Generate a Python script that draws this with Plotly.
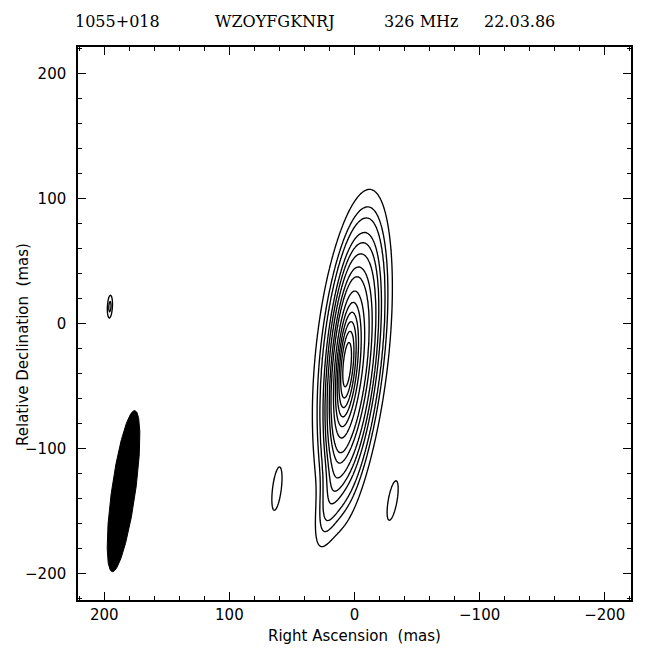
import numpy as np
import plotly.graph_objects as go

# Gaussian model components of the 326 MHz map:
# RA / Dec offsets (mas), peak (mJy/beam), sigma along major / minor axis (mas),
# position angle of the major axis (deg, north through east)
comp_ra = [7.0, 1.0, 2.0, 19.0, -30.5, 62.0, 195.5]
comp_dec = [-33.0, -35.0, -22.0, -138.0, -141.5, -132.0, 13.5]
comp_peak = [55.0, 26.0, 14.0, 2.6, 1.6, 1.6, 2.4]
comp_smaj = [34.0, 48.0, 53.0, 26.0, 16.5, 18.0, 6.9]
comp_smin = [5.5, 8.5, 12.5, 5.5, 3.6, 3.6, 1.5]
comp_pa = [-5.0, -6.0, -6.0, -12.0, -10.0, -7.0, -3.0]

# contour levels (mJy/beam)
contour_levels = [1, 2, 3, 5, 7, 10, 15, 20, 30, 40, 50, 60, 70, 80, 90]

# restoring beam: centre (mas), FWHM major / minor (mas), position angle (deg)
beam_ra, beam_dec = 184.6, -134.0
beam_maj, beam_min, beam_pa = 130.0, 19.0, -8.0

x_ticks = [200, 100, 0, -100, -200]
y_ticks = [-200, -100, 0, 100, 200]
header = ["1055+018", "WZOYFGKNRJ", "326 MHz", "22.03.86"]
header_px = [73, 213, 382, 482]

# --- model brightness on a regular grid --------------------------------------
ra = np.arange(-80.0, 215.01, 0.7)
dec = np.arange(-215.0, 130.01, 0.7)
RA, DEC = np.meshgrid(ra, dec)
flux = np.zeros_like(RA)
for x0, y0, p, sa, sb, pa in zip(comp_ra, comp_dec, comp_peak,
                                 comp_smaj, comp_smin, comp_pa):
    t = np.radians(pa)
    dx, dy = RA - x0, DEC - y0
    u = dx * np.sin(t) + dy * np.cos(t)
    v = dx * np.cos(t) - dy * np.sin(t)
    flux += p * np.exp(-0.5 * ((u / sa) ** 2 + (v / sb) ** 2))

# map the non-uniform levels onto integer steps so one contour trace draws them
lev = [0.0] + contour_levels + [200.0]
level_index = np.interp(flux, lev, np.arange(len(lev))).astype(np.float32)

fig = go.Figure()
fig.add_trace(go.Contour(
    x=ra, y=dec, z=level_index,
    contours=dict(start=1, end=len(contour_levels), size=1, coloring="lines"),
    colorscale=[[0, "black"], [1, "black"]],
    line=dict(width=1.35, smoothing=0.8),
    showscale=False, hoverinfo="skip",
))

# restoring beam drawn as a filled ellipse
tt = np.linspace(0, 2 * np.pi, 240)
pa_b = np.radians(beam_pa)
ua = beam_maj / 2 * np.cos(tt)
vb = beam_min / 2 * np.sin(tt)
fig.add_trace(go.Scatter(
    x=beam_ra + ua * np.sin(pa_b) + vb * np.cos(pa_b),
    y=beam_dec + ua * np.cos(pa_b) - vb * np.sin(pa_b),
    mode="lines", fill="toself", fillcolor="black",
    line=dict(color="black", width=1), hoverinfo="skip", showlegend=False,
))

L, R, T, B = 78, 16, 47, 55
W, H = 647, 655
pw, ph = W - L - R, H - T - B

axis_common = dict(
    ticks="inside", ticklen=8, tickwidth=1.3, tickcolor="black",
    showline=True, linewidth=1.5, linecolor="black", mirror="allticks",
    showgrid=False, zeroline=False,
    tickfont=dict(family="DejaVu Sans", size=15, color="black"),
    minor=dict(dtick=20, tick0=0, ticks="inside", ticklen=4,
               tickwidth=1, tickcolor="black"),
)

fig.update_layout(
    width=W, height=H,
    margin=dict(l=L, r=R, t=T, b=B),
    paper_bgcolor="white", plot_bgcolor="white",
    showlegend=False,
    xaxis=dict(range=[221, -221], tickvals=x_ticks, **axis_common),
    yaxis=dict(range=[-221, 221], tickvals=y_ticks, ticklabelstandoff=7,
               **axis_common),
)

annotations = []
for text, px in zip(header, header_px):
    annotations.append(dict(
        text=text, xref="paper", yref="paper",
        x=(px - L) / pw, y=(H - B - 21) / ph,
        xanchor="left", yanchor="middle", showarrow=False,
        font=dict(family="DejaVu Serif", size=16, color="black"),
    ))
annotations.append(dict(
    text="Right Ascension\u00a0\u00a0(mas)", xref="paper", yref="paper",
    x=0.5, y=(H - B - 636) / ph, xanchor="center", yanchor="middle",
    showarrow=False, font=dict(family="DejaVu Sans", size=15, color="black"),
))
annotations.append(dict(
    text="Relative Declination\u00a0\u00a0(mas)", xref="paper", yref="paper",
    x=(23 - L) / pw, y=(H - B - 345) / ph, xanchor="center", yanchor="middle",
    textangle=-90, showarrow=False,
    font=dict(family="DejaVu Sans", size=15, color="black"),
))
fig.update_layout(annotations=annotations)

fig.write_html("out.html")
